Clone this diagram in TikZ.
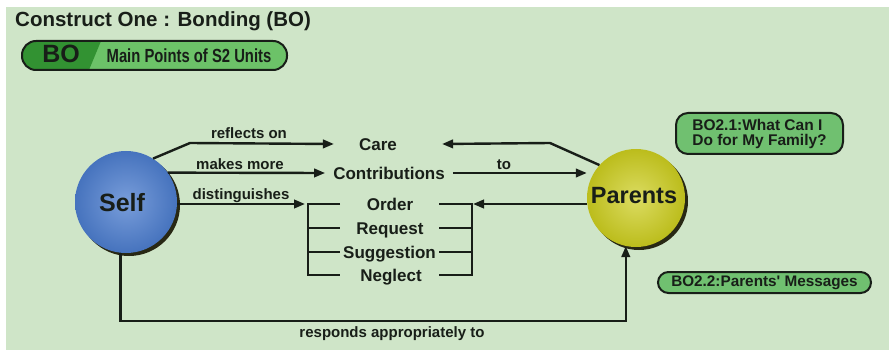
\documentclass[tikz,border=0pt]{standalone}
\usepackage{fontspec}
\setmainfont{Liberation Sans}
\newfontfamily\narrowsans[FakeStretch=0.78]{Liberation Sans}
\usetikzlibrary{arrows.meta}

\definecolor{bgc}{RGB}{207,229,200}
\definecolor{ink}{RGB}{24,30,24}
\definecolor{selfblue}{RGB}{76,125,206}
\definecolor{parentyel}{RGB}{204,205,30}
\definecolor{balldark}{RGB}{40,40,20}
\definecolor{pilldark}{RGB}{50,146,50}
\definecolor{pilllight}{RGB}{108,194,104}
\definecolor{boxgreen}{RGB}{112,192,112}

\begin{document}
\begin{tikzpicture}[x=1pt,y=-1pt,
  conn/.style={draw=ink, line width=2.4pt},
  arr/.style={conn, -{Triangle[length=11pt,width=8.5pt]}},
  word/.style={font=\bfseries\fontsize{17}{20}\selectfont, text=ink,
               inner sep=0pt, text height=12.5pt, text depth=0pt},
  lbl/.style={font=\bfseries\fontsize{15}{18}\selectfont, text=ink,
              inner sep=0pt, anchor=base},
  ball/.style={circle, inner sep=0pt},
  balltext/.style={text=ink, inner sep=0pt, text depth=0pt},
  unitbox/.style={draw=ink, line width=2pt, fill=boxgreen, text=ink,
                  font=\bfseries\fontsize{15.5}{15}\selectfont, align=left,
                  inner sep=0pt}
]
% canvas
\useasboundingbox (0,0) rectangle (889,350);
\fill[white] (0,0) rectangle (889,350);
\fill[bgc] (6,7) rectangle (889,350);

% heading
\node[anchor=base west, inner sep=0pt, text=ink,
      font=\bfseries\fontsize{20.5}{24}\selectfont] (title) at (15,27)
      {Construct One : Bonding (BO)};

% "BO" pill
\begin{scope}
  \clip[rounded corners=14pt] (22,41) rectangle (287,70);
  \fill[pilllight] (22,41) rectangle (287,70);
  \fill[pilldark] (22,41) -- (101,41) -- (89,70) -- (22,70) -- cycle;
\end{scope}
\draw[ink, line width=2pt, rounded corners=14pt] (22,41) rectangle (287,70);
\node[anchor=base, inner sep=0pt, text=ink,
      font=\bfseries\fontsize{25}{30}\selectfont] (bo) at (61,63) {BO};
\node[anchor=base, inner sep=0pt, text=ink,
      font=\narrowsans\bfseries\fontsize{19}{22}\selectfont] (bounits) at (189,63)
      {Main Points of S2 Units};

% the two balls, each with a dark rim below right
\fill[balldark] (129,205) circle (51pt);
\node[ball, minimum size=102pt, shade, inner color=selfblue!75!white,
      outer color=selfblue!92!black] (self) at (126,202) {};
\node[balltext, font=\bfseries\fontsize{25}{30}\selectfont, text height=18pt]
      (selftext) at (122,202.5) {Self};

\fill[balldark] (639,201) circle (49pt);
\node[ball, minimum size=98pt, shade, inner color=parentyel!70!white,
      outer color=parentyel!92!black] (parents) at (636,198) {};
\node[balltext, font=\bfseries\fontsize{23.5}{28}\selectfont, text height=16.8pt]
      (parentstext) at (634,195) {Parents};

% central words
\node[word] (care)    at (378,144) {Care};
\node[word] (contrib) at (389,173) {Contributions};
\node[word] (order)   at (390,204) {Order};
\node[word] (request) at (390,228) {Request};
\node[word] (suggest) at (389.5,252) {Suggestion};
\node[word] (neglect) at (391,275) {Neglect};

% bracket columns
\coordinate (lb) at (308,0);
\coordinate (lt) at (340,0);
\coordinate (rt) at (439,0);
\coordinate (rb) at (472,0);
\coordinate (loop) at (0,321);

\draw[conn] (lt |- order) -- (lb |- order) -- (lb |- neglect) -- (lt |- neglect);
\draw[conn] (lb |- request) -- (lt |- request);
\draw[conn] (lb |- suggest) -- (lt |- suggest);
\draw[conn] (rt |- order) -- (rb |- order) -- (rb |- neglect) -- (rt |- neglect);
\draw[conn] (rb |- request) -- (rt |- request);
\draw[conn] (rb |- suggest) -- (rt |- suggest);

% connectors from Self
\draw[arr] (self.58) -- (190,143) -- ([xshift=-25pt]care.west);
\draw[arr] (self.35) -- ([xshift=-8pt]contrib.west);
\draw[arr] (self.east |- order) -- ([xshift=-3pt]lb |- order);
\draw[arr] (self.264) -- (self.264 |- loop) -| (parents.258);

% connectors from Parents
\draw[arr] (parents.138) -- (550,143) -- ([xshift=45pt]care.east);
\draw[arr] ([xshift=8pt]contrib.east) -- (parents.west |- contrib);
\draw[arr] (parents.west |- order) -- ([xshift=1pt]rb |- order);

% connector labels
\node[lbl] (lreflect) at (249,139) {reflects on};
\node[lbl] (lmakes)   at (240,169) {makes more};
\node[lbl] (ldist)    at (241,199) {distinguishes};
\node[lbl] (lto)      at (504,169) {to};
\node[lbl] (lresp)    at (392,337) {responds appropriately to};

% unit boxes
\node[unitbox, rounded corners=12pt, minimum width=167pt, minimum height=41pt]
      (bo21) at (759.5,133.5) {BO2.1:What Can I\\Do for My Family?};
\node[unitbox, rounded corners=10.5pt, minimum width=213pt, minimum height=21pt,
      font=\bfseries\fontsize{15.3}{18}\selectfont]
      (bo22) at (764.5,282.5) {BO2.2:Parents\textquotesingle\ Messages};
\end{tikzpicture}
\end{document}
